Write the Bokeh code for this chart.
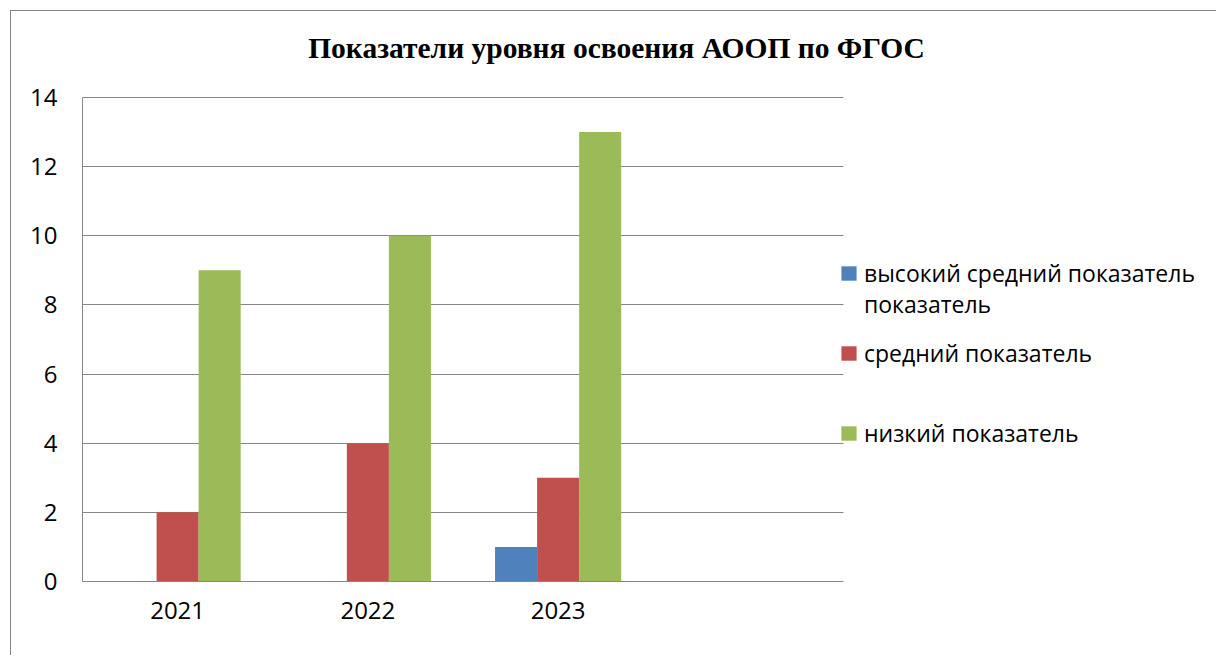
from bokeh.plotting import figure
from bokeh.models import (ColumnDataSource, Legend, LegendItem, Range1d, FixedTicker, Label,
                          Grid, BoxAnnotation)
from bokeh.transform import dodge
from bokeh.embed import file_html
from bokeh.resources import INLINE

# ---- data ----
years = ["2021", "2022", "2023"]
high = [0, 0, 1]       # высокий средний показатель
mid = [2, 4, 3]        # средний показатель
low = [9, 10, 13]      # низкий показатель
y_ticks = [0, 2, 4, 6, 8, 10, 12, 14]
title_text = "Показатели уровня освоения АООП по ФГОС"
legend_lines = ["высокий средний показатель", "показатель", "средний показатель", "низкий показатель"]
colors = ["#4F81BD", "#C0504D", "#9BBB59"]
n_slots = 4            # category slots on the axis (the 4th one is empty)
y_max = 14

GRID = "#868686"
FONT = "Open Sans"

# ---- layout constants (pixels) ----
W, H = 1206, 645
LEFT, BOTTOM = 71, 75
frame_w = W - LEFT
frame_h = H - BOTTOM
plot_w_px = 761          # width of the category area
plot_h_px = 484          # height of the 0..14 value area

x_end = n_slots * frame_w / plot_w_px
y_end = y_max * frame_h / plot_h_px

p = figure(
    width=W, height=H,
    x_range=Range1d(0, x_end), y_range=Range1d(0, y_end),
    output_backend="svg", toolbar_location=None,
    min_border_left=LEFT, min_border_right=0, min_border_top=0, min_border_bottom=BOTTOM,
)
p.outline_line_color = None
p.background_fill_color = "white"
p.border_fill_color = "white"
p.styles = {"border-top": "1px solid #868686", "border-left": "1px solid #868686",
            "margin-left": "10px", "margin-top": "10px"}

xc = [i + 0.5 for i in range(len(years))]
src = ColumnDataSource(dict(xc=xc, year=years, high=high, mid=mid, low=low))
bw = 0.221
r_high = p.vbar(x=dodge("xc", -bw), top="high", width=bw, source=src,
                fill_color=colors[0], line_color=None)
r_mid = p.vbar(x=dodge("xc", 0), top="mid", width=bw, source=src,
               fill_color=colors[1], line_color=None)
r_low = p.vbar(x=dodge("xc", bw), top="low", width=bw, source=src,
               fill_color=colors[2], line_color=None)

# axes
p.xgrid.grid_line_color = None
p.ygrid.grid_line_color = GRID
p.ygrid.grid_line_width = 1
p.yaxis.ticker = FixedTicker(ticks=y_ticks)
p.ygrid.ticker = FixedTicker(ticks=y_ticks)
if "cross_bounds" in Grid.properties():
    p.ygrid.cross_bounds = (0, n_slots)
else:
    p.add_layout(BoxAnnotation(left=n_slots, fill_color="white", fill_alpha=1,
                               line_color=None, level="underlay"))
p.xaxis.ticker = FixedTicker(ticks=xc)
p.xaxis.major_label_overrides = {x: y for x, y in zip(xc, years)}
p.xaxis.bounds = (0, n_slots)
p.yaxis.bounds = (0, y_max)
for ax in (p.xaxis[0], p.yaxis[0]):
    ax.axis_line_color = GRID
    ax.axis_line_width = 1
    ax.major_tick_line_color = None
    ax.minor_tick_line_color = None
    ax.major_tick_out = 0
    ax.major_tick_in = 0
    ax.major_label_text_font = FONT
    ax.major_label_text_font_size = "24px"
    ax.major_label_text_color = "black"
p.yaxis.major_label_standoff = 25
p.xaxis.major_label_standoff = 20

# title
p.add_layout(Label(x=534, y=534, x_units="screen", y_units="screen", text=title_text,
                   text_font="Liberation Serif", text_font_style="bold", text_font_size="29.5px",
                   text_align="center", text_baseline="alphabetic", text_color="black"))

# legend entries
def mk_leg(label, r, y, gw=19, standoff=6):
    leg = Legend(items=[LegendItem(label=label, renderers=[r])], location=(757, y),
                 border_line_color=None, background_fill_alpha=0, padding=0, margin=0, spacing=0,
                 glyph_width=gw, glyph_height=18, label_standoff=standoff, label_height=32,
                 label_text_font=FONT, label_text_font_size="23px", label_text_color="black")
    p.add_layout(leg)

mk_leg(legend_lines[0], r_high, 292.5)
mk_leg(legend_lines[1], r_high, 261, gw=0, standoff=25)
mk_leg(legend_lines[2], r_mid, 212.5)
mk_leg(legend_lines[3], r_low, 132)

open("out.html", "w").write(file_html(p, INLINE))
